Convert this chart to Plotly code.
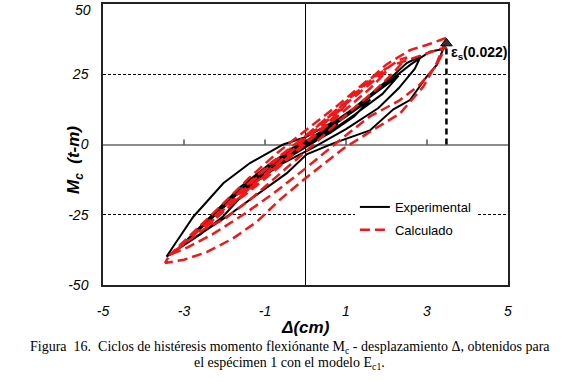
import plotly.graph_objects as go

# ---------------- data ----------------
# Experimental hysteresis loops (displacement cm, moment t-m)
exp_x = [
    -0.8, -0.4, 0.0, 0.4, 0.8, 0.45, 0.0, -0.45, -0.8,
    -1.6, -1.1, -0.5, 0.0, 0.6, 1.1, 1.6, 1.2, 0.6, 0.0, -0.6, -1.1, -1.6,
    -2.3, -1.6, -0.8, 0.0, 0.8, 1.6, 2.3, 1.9, 1.2, 0.4, -0.4, -1.2, -1.8, -2.3,
    -3.18, -2.6, -2.03, -1.29, -0.96, -0.3, 0.5, 1.2, 1.8, 2.2, 2.5, 2.85, 2.7, 2.3, 1.8, 1.0, 0.2, -0.6, -1.3, -2.03, -2.6, -3.18,
    -3.43, -3.27, -2.77, -2.03, -1.37, -0.55, 0.03, 0.8, 1.6, 2.2, 2.6, 3.07, 3.4,
    3.25, 2.99, 2.58, 2.17, 1.59, 0.7, 0.03, -0.46, -1.37, -1.95, -2.7, -3.43,
]
exp_y = [
    -8.0, -3.5, 0.0, 3.5, 7.5, 3.5, 0.0, -4.0, -8.0,
    -16.0, -10.0, -4.0, 0.5, 6.0, 11.0, 16.0, 10.0, 4.0, -0.5, -6.0, -11.0, -16.0,
    -25.0, -15.0, -6.0, 1.0, 8.5, 17.0, 24.5, 18.0, 10.5, 2.5, -4.5, -12.5, -19.0, -25.0,
    -37.5, -30.0, -22.5, -12.0, -7.9, -1.0, 5.0, 13.0, 20.0, 25.0, 29.0, 31.5, 27.0, 20.0, 13.0, 5.5, -1.0, -7.0, -14.0, -25.5, -32.0, -37.5,
    -39.9, -36.4, -25.7, -13.8, -6.6, 0.0, 2.8, 9.0, 17.0, 24.0, 28.5, 33.0, 34.0,
    28.5, 24.1, 15.8, 12.5, 5.0, 0.5, -3.5, -10.2, -19.6, -25.7, -32.8, -39.9,
]

# Calculated hysteresis loops
calc_x = [
    -1.0, -0.5, 0.0, 0.5, 1.0, 0.5, -0.3, -1.0,
    -1.8, -1.0, 0.0, 1.0, 1.8, 2.0, 1.6, 0.8, 0.0, -0.9, -1.5, -1.8,
    -2.5, -1.8, -1.0, 0.0, 0.9, 1.7, 2.3, 2.5, 2.2, 1.7, 1.0, 0.2, -0.6, -1.4, -2.0, -2.5,
    -3.35, -2.78, -2.1, -1.4, -0.7, 0.0, 0.8, 1.5, 2.1, 2.75, 3.24, 3.47,
    3.2, 2.8, 2.3, 1.59, 0.8, 0.0, -0.8, -1.54, -2.3, -2.9, -3.35,
    -3.47, -3.35, -2.78, -2.2, -1.5, -0.8, 0.0, 0.8, 1.5, 2.0, 2.58, 2.99, 3.49,
    3.24, 2.91, 2.58, 2.33, 1.59, 0.93, 0.0, -0.63, -1.2, -1.8, -2.44, -3.0, -3.47,
]
calc_y = [
    -11.0, -4.5, 2.0, 8.0, 14.0, 7.0, -3.0, -11.0,
    -21.0, -10.5, 2.0, 14.5, 24.0, 26.0, 20.0, 10.0, 0.0, -11.0, -18.0, -21.0,
    -30.0, -20.0, -9.0, 3.0, 14.0, 24.0, 30.0, 31.0, 26.0, 19.0, 10.5, 0.0, -10.0, -20.0, -26.5, -30.0,
    -39.3, -31.5, -22.0, -12.0, -3.0, 5.0, 14.0, 22.5, 28.0, 31.2, 33.6, 34.7,
    27.5, 21.0, 15.5, 10.0, 1.0, -8.5, -17.5, -25.0, -32.0, -36.5, -39.3,
    -42.2, -39.3, -32.5, -25.0, -15.0, -6.0, 3.0, 12.5, 22.0, 28.5, 33.6, 35.4, 38.0,
    29.0, 20.6, 15.0, 11.0, 4.5, -1.5, -12.0, -19.6, -27.5, -33.5, -38.3, -41.0, -42.2,
]

# Steel strain marker (ε_s = 0.022)
strain_x = 3.48
strain_M = 36.0
strain_label = "ε<sub>s</sub>(0.022)"

x_ticks = [-5, -3, -1, 1, 3, 5]
y_ticks = [-50, -25, 0, 25, 50]
x_range = [-5, 5]
y_range = [-50, 50]

caption_1 = ("Figura  16.  Ciclos de histéresis momento flexiónante M<sub>c</sub> - "
             "desplazamiento Δ, obtenidos para")
caption_2 = "el espécimen 1 con el modelo E<sub>c1</sub>."

tick_font = dict(family="Arial, Liberation Sans", size=14, color="black", style="italic")

# ---------------- figure ----------------
fig = go.Figure()

fig.add_trace(go.Scatter(
    x=exp_x, y=exp_y, mode="lines", name="Experimental",
    line=dict(color="black", width=2), legendgroup="a",
))
fig.add_trace(go.Scatter(
    x=calc_x, y=calc_y, mode="lines", name="Calculado",
    line=dict(color="#f01818", width=2.5, dash="10px,5px"), legendgroup="b",
))

# vertical dashed line to the strain marker
fig.add_trace(go.Scatter(
    x=[strain_x, strain_x], y=[0, strain_M], mode="lines", showlegend=False,
    line=dict(color="black", width=2.5, dash="6px,4px"), hoverinfo="skip",
))
fig.add_trace(go.Scatter(
    x=[strain_x], y=[strain_M], mode="markers", showlegend=False,
    marker=dict(symbol="triangle-up", size=10, color="#333333",
                line=dict(color="black", width=1)),
))

fig.add_annotation(
    x=strain_x, y=strain_M - 3.5, xref="x", yref="y", text="<b>" + strain_label + "</b>",
    showarrow=False, xanchor="left", yanchor="middle", xshift=3,
    font=dict(family="Arial, Liberation Sans", size=14, color="black"),
)

# small tick marks on the horizontal zero axis
for t in x_ticks:
    if x_range[0] < t < x_range[1]:
        fig.add_shape(type="line", xref="x", yref="y", x0=t, x1=t, y0=0, y1=1.8,
                      line=dict(color="black", width=1))

# top y tick label (plotly drops labels that overflow the figure top)
y_top_label = y_ticks[-1]
fig.add_annotation(
    xref="paper", yref="y", x=0, y=y_top_label, xanchor="right", yanchor="top",
    xshift=-10, yshift=4, text=f"<i>{y_top_label}</i>", showarrow=False,
    font=dict(family="Arial, Liberation Sans", size=14, color="black"),
)

# axis titles
fig.add_annotation(
    xref="paper", yref="paper", x=0.5, y=-0.15, xanchor="center", yanchor="middle",
    text="<b><i>Δ(cm)</i></b>", showarrow=False,
    font=dict(family="Arial, Liberation Sans", size=17, color="black"),
)
fig.add_annotation(
    xref="paper", yref="paper", x=-0.069, y=0.445, xanchor="center", yanchor="middle",
    text="<b><i>M<sub>c</sub>  (t-m)</i></b>", showarrow=False, textangle=-90,
    font=dict(family="Arial, Liberation Sans", size=17, color="black"),
)

# caption
fig.add_annotation(
    xref="paper", yref="paper", x=0.4617, y=-0.221, xanchor="center", yanchor="middle",
    text=caption_1, showarrow=False,
    font=dict(family="Liberation Serif, Times New Roman", size=14, color="black"),
)
fig.add_annotation(
    xref="paper", yref="paper", x=0.4617, y=-0.281, xanchor="center", yanchor="middle",
    text=caption_2, showarrow=False,
    font=dict(family="Liberation Serif, Times New Roman", size=14, color="black"),
)

fig.update_layout(
    width=580, height=382,
    margin=dict(l=103, r=72, t=4, b=97, autoexpand=False),
    paper_bgcolor="white", plot_bgcolor="white",
    font=dict(family="Arial, Liberation Sans", color="black"),
    showlegend=True,
    legend=dict(
        x=0.622, y=0.331, xanchor="left", yanchor="top",
        bgcolor="white", borderwidth=0,
        font=dict(family="Arial, Liberation Sans", size=13, color="black"),
        tracegroupgap=3, traceorder="grouped",
    ),
    xaxis=dict(
        range=x_range, tickvals=x_ticks, ticktext=[str(v) for v in x_ticks],
        showgrid=False, zeroline=True, zerolinecolor="black", zerolinewidth=1,
        showline=True, linecolor="#222222", linewidth=1.5, mirror=True,
        ticks="", ticklabelstandoff=12, automargin=False,
        tickfont=tick_font,
    ),
    yaxis=dict(
        range=y_range, tickvals=y_ticks,
        ticktext=[str(v) if v != y_top_label else "" for v in y_ticks],
        showgrid=True, gridcolor="black", gridwidth=1, griddash="3px,2px",
        zeroline=True, zerolinecolor="#8c8c8c", zerolinewidth=2,
        showline=True, linecolor="#222222", linewidth=1.5, mirror=True,
        ticks="", ticklabelstandoff=10, automargin=False,
        tickfont=tick_font,
    ),
)

fig.write_html(
    "out.html",
    config={"displayModeBar": False},
    post_script="document.body.style.margin='0';document.body.style.overflow='hidden';",
)
